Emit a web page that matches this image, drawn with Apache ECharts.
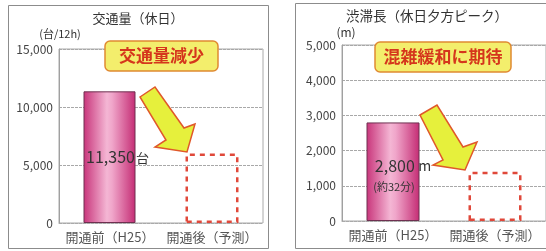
<!DOCTYPE html>
<html>
<head>
<meta charset="utf-8">
<script src="https://cdn.jsdelivr.net/npm/echarts@6/dist/echarts.min.js"></script>
<style>
  html, body { margin: 0; padding: 0; background: #fff; }
  #main { width: 546px; height: 251px; }
</style>
</head>
<body>
<div id="main"></div>
<script>
// 共通カテゴリ
var categories = ['開通前（H25）', '開通後（予測）'];

// 交通量（休日）
var trafficTicks = [0, 5000, 10000, 15000];
var trafficActual = [11350, '-'];
var trafficForecastBox = ['-', 6000];

// 渋滞長（休日夕方ピーク）
var jamTicks = [0, 1000, 2000, 3000, 4000, 5000];
var jamActual = [2800, '-'];
var jamForecastBox = ['-', 1400];

var chart = echarts.init(document.getElementById('main'));
var font = '"Noto Sans CJK JP", "Noto Sans", sans-serif';

var barFill = {
    type: 'linear', x: 0, y: 0, x2: 1, y2: 0,
    colorStops: [
        { offset: 0, color: '#c8347a' },
        { offset: 0.45, color: '#f4b6d4' },
        { offset: 0.55, color: '#f0a6ca' },
        { offset: 1, color: '#c42c74' }
    ]
};

function yAxisOf(idx, ticks) {
    return {
        type: 'value', gridIndex: idx,
        min: ticks[0], max: ticks[ticks.length - 1],
        interval: ticks[1] - ticks[0],
        axisLine: { show: true, lineStyle: { color: '#a0a0a0' } },
        axisTick: { show: false },
        axisLabel: {
            margin: 6, color: '#444', fontSize: 12, fontFamily: font,
            formatter: function (v) { return v.toLocaleString('en-US'); }
        },
        splitLine: { lineStyle: { color: '#a8a8a8', type: [3, 1] } }
    };
}

function xAxisOf(idx) {
    return {
        type: 'category', gridIndex: idx, data: categories,
        axisLine: { show: true, lineStyle: { color: '#aaa', type: [2, 2] } },
        axisTick: { show: false },
        axisLabel: { interval: 0, hideOverlap: false, margin: 8, color: '#555', fontSize: 13, fontFamily: font }
    };
}

function boxSeries(idx, data) {
    return {
        type: 'bar', xAxisIndex: idx, yAxisIndex: idx, data: data,
        barWidth: 53, barGap: '-100%', silent: true, z: 3,
        itemStyle: {
            color: 'rgba(255,255,255,0)', borderColor: '#e0483a',
            borderWidth: 2.5, borderType: [5, 5]
        }
    };
}

var option = {
    animation: false,
    backgroundColor: '#fff',
    grid: [
        { left: 59, right: 283, top: 49, bottom: 28, show: true, borderColor: '#aaa', borderWidth: 1 },
        { left: 342, width: 210, top: 45, bottom: 30, show: true, borderColor: '#aaa', borderWidth: 1 }
    ],
    xAxis: [xAxisOf(0), xAxisOf(1)],
    yAxis: [yAxisOf(0, trafficTicks), yAxisOf(1, jamTicks)],
    series: [
        {
            type: 'bar', xAxisIndex: 0, yAxisIndex: 0, data: trafficActual,
            barWidth: 52, barGap: '-100%', silent: true,
            itemStyle: { color: barFill, borderColor: '#6e3050', borderWidth: 1 },
            label: {
                show: true, position: 'inside', offset: [8, 0],
                formatter: function (p) { return '{a|' + p.value.toLocaleString('en-US') + '}{b|台}'; },
                rich: {
                    a: { fontSize: 16, color: '#333', fontFamily: font },
                    b: { fontSize: 13, color: '#333', fontFamily: font, padding: [2, 0, 0, 1] }
                }
            }
        },
        boxSeries(0, trafficForecastBox),
        {
            type: 'bar', xAxisIndex: 1, yAxisIndex: 1, data: jamActual,
            barWidth: 53, barGap: '-100%', silent: true,
            itemStyle: { color: barFill, borderColor: '#6e3050', borderWidth: 1 },
            label: {
                show: true, position: 'inside', offset: [10, 4],
                formatter: function (p) { return '{a|' + p.value.toLocaleString('en-US') + '} {b|m}\n{c|(約32分)}'; },
                rich: {
                    a: { fontSize: 16, color: '#333', fontFamily: font, lineHeight: 22 },
                    b: { fontSize: 14, color: '#333', fontFamily: font },
                    c: { fontSize: 11, color: '#333', fontFamily: font, lineHeight: 20, padding: [0, 18, 0, 0] }
                }
            }
        },
        boxSeries(1, jamForecastBox)
    ],
    graphic: [
        // panel frames
        { type: 'rect', shape: { x: 8.5, y: 5.5, width: 260, height: 243 }, style: { fill: 'none', stroke: '#8c8c8c', lineWidth: 1 }, z: -1 },
        { type: 'rect', shape: { x: 295.5, y: 3.5, width: 280, height: 245 }, style: { fill: 'none', stroke: '#8c8c8c', lineWidth: 1 }, z: -1 },
        // titles & units
        { type: 'text', x: 138, y: 18, style: { text: '交通量（休日）', fill: '#333', font: '13px ' + font, align: 'center', verticalAlign: 'middle' } },
        { type: 'text', x: 60, y: 34, style: { text: '(台/12h)', fill: '#333', font: '11px ' + font, align: 'center', verticalAlign: 'middle' } },
        { type: 'text', x: 427, y: 16, style: { text: '渋滞長（休日夕方ピーク）', fill: '#333', font: '13.5px ' + font, align: 'center', verticalAlign: 'middle' } },
        { type: 'text', x: 346, y: 32, style: { text: '(m)', fill: '#333', font: '12px ' + font, align: 'center', verticalAlign: 'middle' } },
        // callouts
        { type: 'rect', shape: { x: 105, y: 41, width: 113, height: 30, r: 5 }, style: { fill: '#f3ee6c', stroke: '#e08a32', lineWidth: 1.5 }, z: 10 },
        { type: 'text', x: 161.5, y: 56, style: { text: '交通量減少', fill: '#d5361c', font: 'bold 17px ' + font, align: 'center', verticalAlign: 'middle' }, z: 11 },
        { type: 'rect', shape: { x: 375, y: 42, width: 136, height: 30, r: 5 }, style: { fill: '#f3ee6c', stroke: '#e08a32', lineWidth: 1.5 }, z: 10 },
        { type: 'text', x: 443, y: 57, style: { text: '混雑緩和に期待', fill: '#d5361c', font: 'bold 17px ' + font, align: 'center', verticalAlign: 'middle' }, z: 11 },
        // arrows
        {
            type: 'polygon', z: 10,
            shape: { points: [[140, 97], [155, 87], [184, 128], [195, 124], [187, 152], [155, 147], [166, 140]] },
            style: { fill: '#e6f03c', stroke: '#e0582a', lineWidth: 1.5, lineJoin: 'miter' }
        },
        {
            type: 'polygon', z: 10,
            shape: { points: [[420, 115], [437, 105], [463, 147], [477, 142], [465, 170], [433, 165], [443, 160]] },
            style: { fill: '#e6f03c', stroke: '#e0582a', lineWidth: 1.5, lineJoin: 'miter' }
        }
    ]
};

chart.setOption(option);
</script>
</body>
</html>
